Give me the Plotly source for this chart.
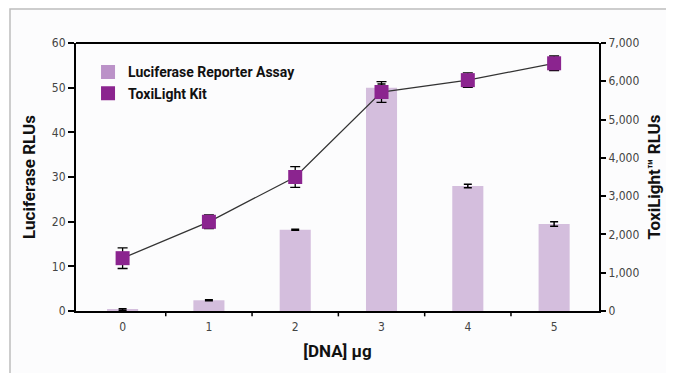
import plotly.graph_objects as go

dna = [0, 1, 2, 3, 4, 5]
luciferase = [0.3, 2.4, 18.2, 50.0, 28.0, 19.5]
luciferase_err = [0.2, 0.1, 0.1, 0.8, 0.4, 0.5]
toxilight = [1380, 2330, 3500, 5720, 6030, 6470]
toxilight_err = [270, 180, 270, 270, 190, 190]

left_ticks = [0, 10, 20, 30, 40, 50, 60]
right_ticks = [0, 1000, 2000, 3000, 4000, 5000, 6000, 7000]

FONT = "DejaVu Sans Condensed, Liberation Sans Narrow, sans-serif"
BOLD = "Roboto, Liberation Sans, sans-serif"
BAR_C = "#D4BEDD"
MARK_C = "#8B248F"
LEG_BAR_C = "#BB92C8"

# figure is 666x365 (page body margin of 8px makes it fill the 674x373 window)
W, H = 666, 365
PL, PR, PT, PB = 68, 591, 35, 303
PW, PH = PR - PL, PB - PT

fig = go.Figure()
fig.add_trace(go.Bar(
    x=dna, y=luciferase, width=0.36, marker=dict(color=BAR_C, line=dict(width=0)),
    error_y=dict(type="data", array=luciferase_err, color="black", thickness=1.5, width=4),
    showlegend=False, yaxis="y"))
fig.add_trace(go.Scatter(
    x=dna, y=toxilight, mode="lines+markers",
    line=dict(color="#333333", width=1.3),
    marker=dict(symbol="square", size=14, color=MARK_C),
    error_y=dict(type="data", array=toxilight_err, color="black", thickness=1.3, width=5),
    showlegend=False, yaxis="y2"))
# legend entries
fig.add_trace(go.Scatter(x=[None], y=[None], mode="markers", name="<b>Luciferase Reporter Assay</b>",
                         marker=dict(symbol="square", size=14, color=LEG_BAR_C)))
fig.add_trace(go.Scatter(x=[None], y=[None], mode="markers", name="<b>ToxiLight Kit</b>",
                         marker=dict(symbol="square", size=14, color=MARK_C)))

# outer frame
fig.add_shape(type="rect", xref="paper", yref="paper",
              x0=(2 - PL) / PW, x1=(659 - PL) / PW,
              y0=(PB - 420) / PH, y1=(PB - 1) / PH,
              line=dict(color="#BDBDBD", width=1.5), fillcolor="#FCFCFD", layer="below")

fig.update_layout(
    width=W, height=H,
    margin=dict(l=PL, r=W - PR, t=PT, b=H - PB, autoexpand=False),
    paper_bgcolor="white",
    plot_bgcolor="#F6EAF2",
    font=dict(family=FONT, color="#444444", size=12),
    legend=dict(x=0.023, y=0.95, xanchor="left", yanchor="top",
                bgcolor="rgba(0,0,0,0)", tracegroupgap=0, itemwidth=30,
                font=dict(family=BOLD, size=14, color="#111111"),
                ),
    xaxis=dict(
        range=[-0.54, 5.52], tickmode="array", tickvals=dna, ticktext=[str(d) for d in dna],
        ticks="", showgrid=False, zeroline=False, automargin=False, ticklabelstandoff=4,
        showline=True, linecolor="black", linewidth=2, mirror=False,
        title=dict(text="<b>[DNA] µg</b>", font=dict(family=BOLD, size=17, color="#111111"), standoff=12),
        tickfont=dict(size=12, color="#444444"),
    ),
    yaxis=dict(
        range=[0, 60], tickvals=left_ticks, ticks="outside", ticklen=6, tickwidth=1.5, tickcolor="black",
        showgrid=False, zeroline=False, showline=True, linecolor="black", linewidth=2, automargin=False,
        title=dict(text="<b>Luciferase RLUs</b>", font=dict(family=BOLD, size=17, color="#111111"), standoff=12),
        tickfont=dict(size=12, color="#444444"),
    ),
    yaxis2=dict(
        range=[0, 7000], tickvals=right_ticks, tickformat=",d", overlaying="y", side="right",
        ticks="outside", ticklen=5, tickwidth=1.5, tickcolor="black", automargin=False,
        showgrid=False, zeroline=False, showline=True, linecolor="black", linewidth=2,
        title=dict(text="<b>ToxiLight™ RLUs</b>", font=dict(family=BOLD, size=17, color="#111111"), standoff=10),
        tickfont=dict(size=12, color="#444444"),
    ),
)
# top border line of plot area and category boundary ticks on x axis
fig.add_shape(type="line", xref="paper", yref="paper", x0=0, x1=1, y0=1, y1=1,
              line=dict(color="black", width=2))
for b in [0.5, 1.5, 2.5, 3.5, 4.5]:
    fig.add_shape(type="line", xref="x", yref="paper", x0=b, x1=b, y0=0, y1=-0.02,
                  line=dict(color="black", width=1.5))

fig.write_html("out.html")
